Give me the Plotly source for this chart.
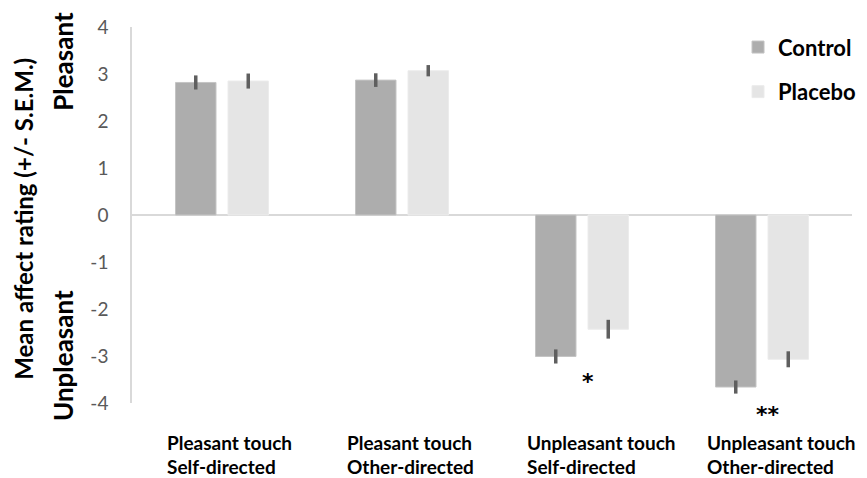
import plotly.graph_objects as go

categories = ["PS", "PO", "US", "UO"]
cat_line1 = ["Pleasant touch", "Pleasant touch", "Unpleasant touch", "Unpleasant touch"]
cat_line2 = ["Self-directed", "Other-directed", "Self-directed", "Other-directed"]
control_vals = [2.82, 2.87, -3.01, -3.66]
control_err = [0.15, 0.145, 0.15, 0.14]
placebo_vals = [2.85, 3.07, -2.43, -3.07]
placebo_err = [0.16, 0.12, 0.2, 0.17]
sig_labels = ["", "", "*", "**"]
sig_y = [None, None, -3.55, -4.0]
sig_shift = [0, 0, 0, -11]
y_ticks = [-4, -3, -2, -1, 0, 1, 2, 3, 4]
y_ticktext = ["-4", "-3", "-2", "-1", "0", "1", "2", "3", "4"]

FONT = "Lato"
err_color = "#5f5f5f"

fig = go.Figure()
fig.add_trace(go.Bar(
    x=categories, y=control_vals, name="Control", legendgroup="c",
    marker=dict(color="#adadad", line=dict(color="#c4c4c4", width=1)),
    error_y=dict(type="data", array=control_err, color=err_color, thickness=3.5, width=0),
))
fig.add_trace(go.Bar(
    x=categories, y=placebo_vals, name="Placebo", legendgroup="p",
    marker=dict(color="#e5e5e5", line=dict(color="#ececec", width=1)),
    error_y=dict(type="data", array=placebo_err, color=err_color, thickness=3.5, width=0),
))

annotations = []
label_font = dict(family=FONT, size=19, color="#000000", weight="bold")
for c, l1, l2 in zip(categories, cat_line1, cat_line2):
    for txt, ys in [(l1, -26), (l2, -50)]:
        annotations.append(dict(
            x=c, xref="x", y=0, yref="paper", yanchor="top", yshift=ys,
            xanchor="left", xshift=-57, align="left", showarrow=False,
            text=txt, font=label_font,
        ))
for c, s, sy, ss in zip(categories, sig_labels, sig_y, sig_shift):
    if s:
        annotations.append(dict(
            x=c, xref="x", y=sy, yref="y", xshift=6, yshift=ss, showarrow=False,
            xanchor="center", yanchor="middle",
            text=s, font=dict(family="DejaVu Sans", size=22, color="#000000", weight="bold"),
        ))
annotations.append(dict(
    x=24, xref="paper", y=0.49, yref="paper", showarrow=False, textangle=-90,
    xanchor="center", yanchor="middle",
    text="Mean affect rating (+/- S.E.M.)",
    font=dict(family=FONT, size=24, color="#000000", weight="bold"),
))
for txt, yy in [("Pleasant", 3.26), ("Unpleasant", -3.0)]:
    annotations.append(dict(
        x=63, xref="paper", y=yy, yref="y", showarrow=False, textangle=-90,
        xanchor="center", yanchor="middle",
        text=txt, font=dict(family=FONT, size=26, color="#000000", weight="bold"),
    ))
# convert pixel x for rotated titles into paper coordinates
for a in annotations:
    if a.get("xref") == "paper" and a["x"] > 1:
        a["x"] = (a["x"] - 132) / 720

fig.update_layout(
    width=867, height=478,
    margin=dict(l=132, r=15, t=27, b=75, autoexpand=False),
    paper_bgcolor="white", plot_bgcolor="white",
    barmode="group", bargap=0.4167, bargroupgap=0.229,
    font=dict(family=FONT),
    xaxis=dict(showticklabels=False, showgrid=False, showline=False, ticks="",
               zeroline=False, range=[-0.5, 3.5]),
    yaxis=dict(range=[-4, 4], tickvals=y_ticks, ticktext=y_ticktext, showgrid=False,
               showline=True, linecolor="#d9d9d9", linewidth=1.5,
               zeroline=True, zerolinecolor="#d9d9d9", zerolinewidth=1.5,
               ticks="", ticklabelstandoff=18,
               tickfont=dict(family=FONT, size=19, color="#595959")),
    legend=dict(x=0.8417, y=1.002, xanchor="left", yanchor="top",
                font=dict(family=FONT, size=22, color="#000000", weight="bold"),
                tracegroupgap=13, bgcolor="rgba(0,0,0,0)"),
    annotations=annotations,
    showlegend=True,
)

fig.write_html("out.html", config={"displayModeBar": False},
               post_script="document.body.style.margin='0';")
